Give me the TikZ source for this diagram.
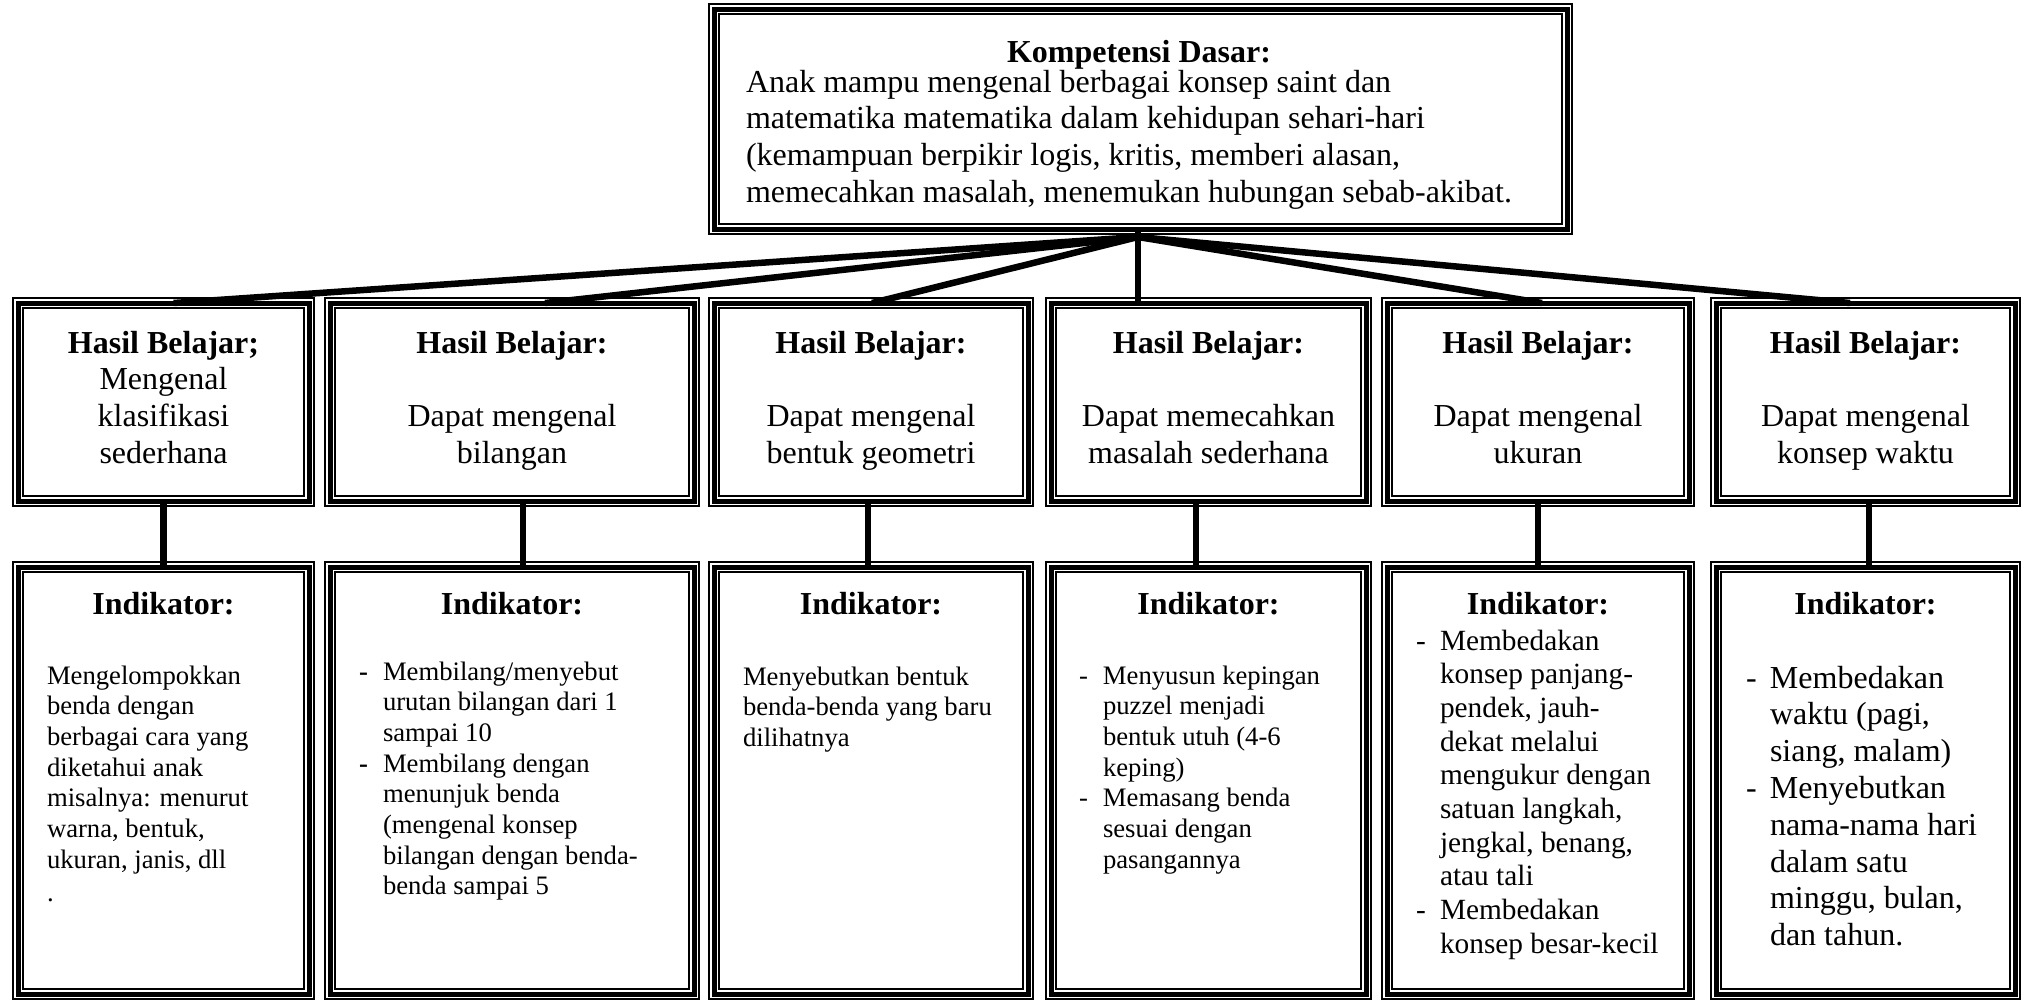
\documentclass[tikz,border=0pt]{standalone}
\usepackage{fontspec}
\setmainfont{Liberation Serif}
\newcommand\fszA{\fontsize{32}{36.8}\selectfont}
\newcommand\fszB{\fontsize{26.67}{30.67}\selectfont}
\newcommand\fszC{\fontsize{29.33}{33.7}\selectfont}
\newcommand\dsh{\makebox[24pt][l]{-}}
\newcommand\bdsh{\makebox[24pt][l]{\textbf{-}}}
\newcommand\ind{\hspace*{24pt}}
\newcommand\ctext[2]{\vtop{\hsize=#1\relax\parskip=0pt\centering #2\par}}
\newcommand\ltext[2]{\vtop{\hsize=#1\relax\parskip=0pt\raggedright #2\par}}
\begin{document}
\begin{tikzpicture}[x=1pt,y=-1pt,
  tribox/.style={rectangle, draw=black, line width=5pt, inner sep=0pt, outer sep=0pt,
    preaction={fill=white, draw=black, line width=12pt},
    preaction={draw=white, line width=8pt}},
  conn/.style={draw=black, line width=6.5pt},
  tl/.style={inner sep=0pt, outer sep=0pt, anchor=base west},
  tc/.style={inner sep=0pt, outer sep=0pt, anchor=base}]
\fill[white] (0,0) rectangle (2025,1001);
\useasboundingbox (0,0) rectangle (2025,1001);

% boxes
\node[tribox, minimum width=853pt, minimum height=220pt] (kd) at (1140.5,119) {};

\node[tribox, minimum width=291pt, minimum height=198pt] (h1) at (163.5,402) {};
\node[tribox, minimum width=364pt, minimum height=198pt] (h2) at (512,402) {};
\node[tribox, minimum width=314pt, minimum height=198pt] (h3) at (871,402) {};
\node[tribox, minimum width=315pt, minimum height=198pt] (h4) at (1208.5,402) {};
\node[tribox, minimum width=302pt, minimum height=198pt] (h5) at (1538,402) {};
\node[tribox, minimum width=299pt, minimum height=198pt] (h6) at (1865.5,402) {};

\node[tribox, minimum width=291pt, minimum height=427pt] (i1) at (163.5,780.5) {};
\node[tribox, minimum width=364pt, minimum height=427pt] (i2) at (512,780.5) {};
\node[tribox, minimum width=314pt, minimum height=427pt] (i3) at (871,780.5) {};
\node[tribox, minimum width=315pt, minimum height=427pt] (i4) at (1208.5,780.5) {};
\node[tribox, minimum width=302pt, minimum height=427pt] (i5) at (1538,780.5) {};
\node[tribox, minimum width=299pt, minimum height=427pt] (i6) at (1865.5,780.5) {};

% connectors from top box
\coordinate (hub) at ([xshift=-2.5pt,yshift=-8pt]kd.south);
\draw[conn] (hub) -- ([xshift=10pt]h1.north);
\draw[conn] (hub) -- ([xshift=33pt]h2.north);
\draw[conn] (hub) -- ([xshift=1pt]h3.north);
\draw[conn] ([xshift=-2.5pt]kd.south) -- ([xshift=-70.5pt]h4.north);
\draw[conn] (hub) -- ([xshift=4pt]h5.north);
\draw[conn] (hub) -- ([xshift=-15.5pt]h6.north);

% connectors between rows
\draw[conn] (h1.south) -- (i1.north);
\draw[conn] ([xshift=11pt]h2.south) -- ([xshift=11pt]i2.north);
\draw[conn] ([xshift=-3pt]h3.south) -- ([xshift=-3pt]i3.north);
\draw[conn] ([xshift=-12.5pt]h4.south) -- ([xshift=-12.5pt]i4.north);
\draw[conn] (h5.south) -- (i5.north);
\draw[conn] ([xshift=3.5pt]h6.south) -- ([xshift=3.5pt]i6.north);

% top box text
\node[tc, font=\fszA\bfseries] (kdt) at (1139,62) {Kompetensi Dasar:};
\node[tl, font=\fszA] (kdb) at (746,92) {\ltext{815pt}{Anak mampu mengenal berbagai konsep saint dan\\
matematika matematika dalam kehidupan sehari-hari\\
(kemampuan berpikir logis, kritis, memberi alasan,\\
memecahkan masalah, menemukan hubungan sebab-akibat.}};

% Hasil Belajar texts
\node[tc, font=\fszA] (h1t) at (163.5,353) {\ctext{280pt}{\textbf{Hasil Belajar;}\\ Mengenal\\ klasifikasi\\ sederhana}};
\node[tc, font=\fszA] (h2t) at (512,353) {\ctext{340pt}{\textbf{Hasil Belajar:}\\[36.8pt] Dapat mengenal\\ bilangan}};
\node[tc, font=\fszA] (h3t) at (871,353) {\ctext{300pt}{\textbf{Hasil Belajar:}\\[36.8pt] Dapat mengenal\\ bentuk geometri}};
\node[tc, font=\fszA] (h4t) at (1208.5,353) {\ctext{300pt}{\textbf{Hasil Belajar:}\\[36.8pt] Dapat memecahkan\\ masalah sederhana}};
\node[tc, font=\fszA] (h5t) at (1538,353) {\ctext{290pt}{\textbf{Hasil Belajar:}\\[36.8pt] Dapat mengenal\\ ukuran}};
\node[tc, font=\fszA] (h6t) at (1865.5,353) {\ctext{290pt}{\textbf{Hasil Belajar:}\\[36.8pt] Dapat mengenal\\ konsep waktu}};

% Indikator titles
\node[tc, font=\fszA\bfseries] (i1t) at (163.5,614) {Indikator:};
\node[tc, font=\fszA\bfseries] (i2t) at (512,614) {Indikator:};
\node[tc, font=\fszA\bfseries] (i3t) at (871,614) {Indikator:};
\node[tc, font=\fszA\bfseries] (i4t) at (1208.5,614) {Indikator:};
\node[tc, font=\fszA\bfseries] (i5t) at (1538,614) {Indikator:};
\node[tc, font=\fszA\bfseries] (i6t) at (1865.5,614) {Indikator:};

% Indikator bodies
\node[tl, font=\fszB] (i1b) at (47,684) {\ltext{250pt}{Mengelompokkan\\ benda dengan\\ berbagai cara yang\\ diketahui anak\\ misalnya: menurut\\ warna, bentuk,\\ ukuran, janis, dll\\[3pt] .}};
\node[tl, font=\fszB] (i2b) at (359,680) {\ltext{320pt}{\bdsh Membilang/menyebut\\ \ind urutan bilangan dari 1\\ \ind sampai 10\\ \bdsh Membilang dengan\\ \ind menunjuk benda\\ \ind (mengenal konsep\\ \ind bilangan dengan benda-\\ \ind benda sampai 5}};
\node[tl, font=\fszB] (i3b) at (743,685) {\ltext{270pt}{Menyebutkan bentuk\\ benda-benda yang baru\\ dilihatnya}};
\node[tl, font=\fszB] (i4b) at (1079,684) {\ltext{270pt}{\dsh Menyusun kepingan\\ \ind puzzel menjadi\\ \ind bentuk utuh (4-6\\ \ind keping)\\ \dsh Memasang benda\\ \ind sesuai dengan\\ \ind pasangannya}};
\node[tl, font=\fszC] (i5b) at (1416,650) {\ltext{270pt}{\dsh Membedakan\\ \ind konsep panjang-\\ \ind pendek, jauh-\\ \ind dekat melalui\\ \ind mengukur dengan\\ \ind satuan langkah,\\ \ind jengkal, benang,\\ \ind atau tali\\ \dsh Membedakan\\ \ind konsep besar-kecil}};
\node[tl, font=\fszA] (i6b) at (1746,688) {\ltext{265pt}{\dsh Membedakan\\ \ind waktu (pagi,\\ \ind siang, malam)\\ \dsh Menyebutkan\\ \ind nama-nama hari\\ \ind dalam satu\\ \ind minggu, bulan,\\ \ind dan tahun.}};
\end{tikzpicture}
\end{document}
